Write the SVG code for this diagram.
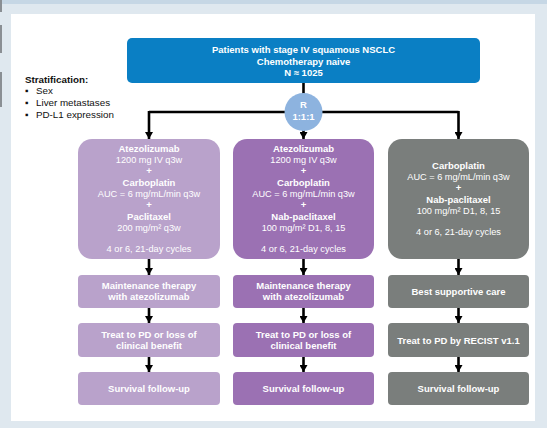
<svg xmlns="http://www.w3.org/2000/svg" width="547" height="428" viewBox="0 0 547 428">
  <defs>
    <marker id="arrow" markerUnits="userSpaceOnUse" markerWidth="10" markerHeight="8" refX="7" refY="4" orient="auto">
      <path d="M0,0 L7,4 L0,8 Z" fill="#000"/>
    </marker>
    <style>
      text { font-family: "Liberation Sans", Arial, sans-serif; font-size: 9.2px; fill: #fff; text-anchor: middle; }
      .b { font-weight: bold; font-size: 9.5px; }
      .dark { fill: #111; text-anchor: start; font-size: 9.8px; }
      .wire { stroke: #000; stroke-width: 2.6; fill: none; }
      .arm1 { fill: #b9a2cb; }
      .arm2 { fill: #9b71b3; }
      .arm3 { fill: #7a7e7c; }
    </style>
  </defs>

  <!-- page background -->
  <rect x="0" y="0" width="547" height="428" fill="#dfe8ef"/>
  <rect x="0" y="0" width="547" height="4" fill="#c6d7e5"/>
  <rect x="0" y="0" width="2" height="12" fill="#8a8f94"/>
  <rect x="0" y="25" width="2" height="28" fill="#8a8f94"/>
  <rect x="0" y="72" width="2" height="35" fill="#8a8f94"/>
  <rect x="11" y="14" width="524" height="407" fill="#ffffff"/>

  <!-- connectors -->
  <g id="connectors">
    <line class="wire" x1="303.5" y1="83" x2="303.5" y2="94"/>
    <polyline class="wire" points="149,112 458.5,112"/>
    <line class="wire" x1="149" y1="111" x2="149" y2="139" marker-end="url(#arrow)"/>
    <line class="wire" x1="303.5" y1="130" x2="303.5" y2="139" marker-end="url(#arrow)"/>
    <line class="wire" x1="458.5" y1="111" x2="458.5" y2="139" marker-end="url(#arrow)"/>
    <line class="wire" x1="149" y1="259" x2="149" y2="275" marker-end="url(#arrow)"/>
    <line class="wire" x1="303.5" y1="259" x2="303.5" y2="275" marker-end="url(#arrow)"/>
    <line class="wire" x1="458.5" y1="259" x2="458.5" y2="275" marker-end="url(#arrow)"/>
    <line class="wire" x1="149" y1="308" x2="149" y2="323" marker-end="url(#arrow)"/>
    <line class="wire" x1="303.5" y1="308" x2="303.5" y2="323" marker-end="url(#arrow)"/>
    <line class="wire" x1="458.5" y1="308" x2="458.5" y2="323" marker-end="url(#arrow)"/>
    <line class="wire" x1="149" y1="357" x2="149" y2="372" marker-end="url(#arrow)"/>
    <line class="wire" x1="303.5" y1="357" x2="303.5" y2="372" marker-end="url(#arrow)"/>
    <line class="wire" x1="458.5" y1="357" x2="458.5" y2="372" marker-end="url(#arrow)"/>
  </g>

  <!-- population -->
  <g id="population">
    <rect x="127" y="38" width="353" height="45" rx="5" fill="#0a7fc4"/>
    <text class="b" x="303.5" y="53">Patients with stage IV squamous NSCLC</text>
    <text class="b" x="303.5" y="64.5">Chemotherapy naive</text>
    <text class="b" x="303.5" y="75.5">N ≈ 1025</text>
  </g>

  <!-- stratification factors -->
  <g id="stratification">
    <text class="dark b" x="25" y="83">Stratification:</text>
    <text class="dark" x="25" y="94">▪</text>
    <text class="dark" x="36" y="94">Sex</text>
    <text class="dark" x="25" y="106">▪</text>
    <text class="dark" x="36" y="106">Liver metastases</text>
    <text class="dark" x="25" y="118">▪</text>
    <text class="dark" x="36" y="118">PD-L1 expression</text>
  </g>

  <!-- randomisation -->
  <g id="randomisation">
    <circle cx="303.5" cy="112" r="19" fill="#8db3df"/>
    <text class="b" x="303.5" y="108">R</text>
    <text class="b" x="303.5" y="120">1:1:1</text>
  </g>

  <!-- arm A -->
  <g id="armA-induction">
    <rect class="arm1" x="78" y="139" width="142" height="120" rx="14"/>
    <text class="b" x="149" y="152">Atezolizumab</text>
    <text x="149" y="163">1200 mg IV q3w</text>
    <text class="b" x="149" y="174">+</text>
    <text class="b" x="149" y="186">Carboplatin</text>
    <text x="149" y="197">AUC = 6 mg/mL/min q3w</text>
    <text class="b" x="149" y="208">+</text>
    <text class="b" x="149" y="220">Paclitaxel</text>
    <text x="149" y="231">200 mg/m² q3w</text>
    <text x="149" y="252">4 or 6, 21-day cycles</text>
  </g>
  <g id="armA-maintenance">
    <rect class="arm1" x="78" y="275" width="142" height="33" rx="4"/>
    <text class="b" x="149" y="289">Maintenance therapy</text>
    <text class="b" x="149" y="299.5">with atezolizumab</text>
  </g>
  <g id="armA-treat">
    <rect class="arm1" x="78" y="323" width="142" height="34" rx="4"/>
    <text class="b" x="149" y="338">Treat to PD or loss of</text>
    <text class="b" x="149" y="348.5">clinical benefit</text>
  </g>
  <g id="armA-followup">
    <rect class="arm1" x="78" y="372" width="142" height="33" rx="4"/>
    <text class="b" x="149" y="392">Survival follow-up</text>
  </g>

  <!-- arm B -->
  <g id="armB-induction">
    <rect class="arm2" x="233" y="139" width="141" height="120" rx="14"/>
    <text class="b" x="303.5" y="152">Atezolizumab</text>
    <text x="303.5" y="163">1200 mg IV q3w</text>
    <text class="b" x="303.5" y="174">+</text>
    <text class="b" x="303.5" y="186">Carboplatin</text>
    <text x="303.5" y="197">AUC = 6 mg/mL/min q3w</text>
    <text class="b" x="303.5" y="208">+</text>
    <text class="b" x="303.5" y="220">Nab-paclitaxel</text>
    <text x="303.5" y="231">100 mg/m² D1, 8, 15</text>
    <text x="303.5" y="252">4 or 6, 21-day cycles</text>
  </g>
  <g id="armB-maintenance">
    <rect class="arm2" x="233" y="275" width="141" height="33" rx="4"/>
    <text class="b" x="303.5" y="289">Maintenance therapy</text>
    <text class="b" x="303.5" y="299.5">with atezolizumab</text>
  </g>
  <g id="armB-treat">
    <rect class="arm2" x="233" y="323" width="141" height="34" rx="4"/>
    <text class="b" x="303.5" y="338">Treat to PD or loss of</text>
    <text class="b" x="303.5" y="348.5">clinical benefit</text>
  </g>
  <g id="armB-followup">
    <rect class="arm2" x="233" y="372" width="141" height="33" rx="4"/>
    <text class="b" x="303.5" y="392">Survival follow-up</text>
  </g>

  <!-- arm C -->
  <g id="armC-induction">
    <rect class="arm3" x="388" y="139" width="141" height="120" rx="14"/>
    <text class="b" x="458.5" y="169">Carboplatin</text>
    <text x="458.5" y="180">AUC = 6 mg/mL/min q3w</text>
    <text class="b" x="458.5" y="191">+</text>
    <text class="b" x="458.5" y="202.5">Nab-paclitaxel</text>
    <text x="458.5" y="213.5">100 mg/m² D1, 8, 15</text>
    <text x="458.5" y="234.5">4 or 6, 21-day cycles</text>
  </g>
  <g id="armC-supportive">
    <rect class="arm3" x="388" y="275" width="141" height="33" rx="4"/>
    <text class="b" x="458.5" y="295">Best supportive care</text>
  </g>
  <g id="armC-treat">
    <rect class="arm3" x="388" y="323" width="141" height="34" rx="4"/>
    <text class="b" x="458.5" y="343.5">Treat to PD by RECIST v1.1</text>
  </g>
  <g id="armC-followup">
    <rect class="arm3" x="388" y="372" width="141" height="33" rx="4"/>
    <text class="b" x="458.5" y="392">Survival follow-up</text>
  </g>
</svg>
